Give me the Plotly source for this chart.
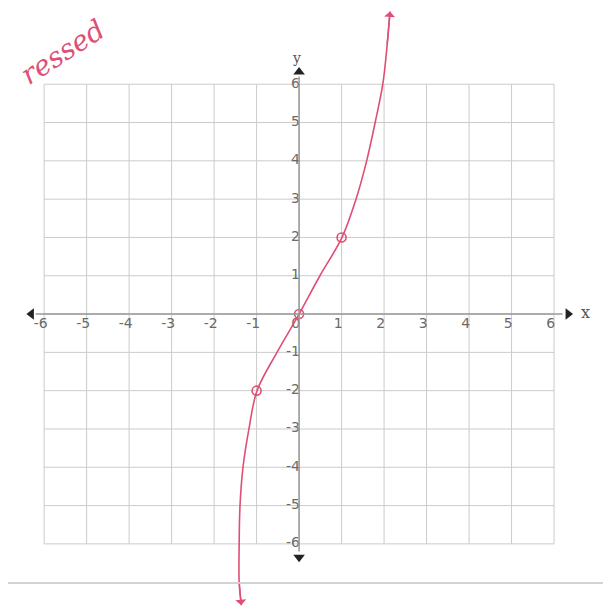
import plotly.graph_objects as go

# hand drawn curve
curve_x = [-1.36, -1.41, -1.41, -1.39, -1.32, -1.18, -0.99, -0.52, 0.0, 0.49, 1.01, 1.34, 1.59, 1.79, 1.97, 2.07, 2.14]
curve_y = [-7.6, -7.0, -6.0, -5.0, -4.0, -3.0, -2.0, -1.0, 0.0, 1.0, 2.0, 3.0, 4.0, 5.0, 6.0, 7.0, 7.9]

# plotted points (the little circles)
pts_x = [-1, 0, 1]
pts_y = [-2, 0, 2]

ticks = [-6, -5, -4, -3, -2, -1, 0, 1, 2, 3, 4, 5, 6]
tick_labels = ["-6", "-5", "-4", "-3", "-2", "-1", "0", "1", "2", "3", "4", "5", "6"]

pink = "#df4f75"
grid = "#cbcbcb"

fig = go.Figure()

shapes = []
for t in ticks:
    shapes.append(dict(type="line", x0=t, x1=t, y0=-6, y1=6, line=dict(color=grid, width=1), layer="below"))
    shapes.append(dict(type="line", x0=-6, x1=6, y0=t, y1=t, line=dict(color=grid, width=1), layer="below"))
# axes
shapes.append(dict(type="line", x0=-6.2, x1=6.2, y0=0, y1=0, line=dict(color="#999", width=1.5)))
shapes.append(dict(type="line", x0=0, x1=0, y0=-6.2, y1=6.2, line=dict(color="#999", width=1.5)))
# scan border
shapes.append(dict(type="line", xref="paper", yref="paper", x0=0, x1=1, y0=1 - 575/601, y1=1 - 575/601,
                   line=dict(color="#d3d3d3", width=2)))

# axis arrowheads
fig.add_trace(go.Scatter(x=[-6.3, 6.33, 0, 0], y=[0, 0, 6.32, -6.35], mode="markers",
                         marker=dict(symbol=["triangle-left", "triangle-right", "triangle-up", "triangle-down"],
                                     size=10, color="#222"),
                         hoverinfo="skip", showlegend=False))

# tick labels
fig.add_trace(go.Scatter(x=[t - 0.08 for t in ticks], y=[-0.28] * len(ticks), mode="text",
                         text=tick_labels, textfont=dict(family="DejaVu Sans", size=14, color="#6a6a6a"),
                         hoverinfo="skip", showlegend=False))
y_ticks = [t for t in ticks if t != 0]
y_labels = [l for t, l in zip(ticks, tick_labels) if t != 0]
fig.add_trace(go.Scatter(x=[0.02] * len(y_ticks), y=y_ticks, mode="text", textposition="middle left",
                         text=y_labels, textfont=dict(family="DejaVu Sans", size=14, color="#6a6a6a"),
                         hoverinfo="skip", showlegend=False))

# the curve
fig.add_trace(go.Scatter(x=curve_x, y=curve_y, mode="lines", line=dict(color=pink, width=1.6, shape="spline"),
                         hoverinfo="skip", showlegend=False))
fig.add_trace(go.Scatter(x=pts_x, y=pts_y, mode="markers",
                         marker=dict(symbol="circle-open", size=9, color=pink, line=dict(width=1.6)),
                         hoverinfo="skip", showlegend=False))

annotations = [
    dict(x=6.73, y=0.05, text="x", showarrow=False, font=dict(family="DejaVu Serif", size=16, color="#555")),
    dict(x=-0.05, y=6.68, text="y", showarrow=False, font=dict(family="DejaVu Serif", size=14, color="#555")),
    # curve arrowheads
    dict(x=curve_x[-1], y=curve_y[-1], ax=curve_x[-2], ay=curve_y[-2], axref="x", ayref="y",
         showarrow=True, arrowhead=1, arrowsize=1.3, arrowwidth=1.4, arrowcolor=pink, text=""),
    dict(x=curve_x[0], y=curve_y[0], ax=curve_x[1], ay=curve_y[1], axref="x", ayref="y",
         showarrow=True, arrowhead=1, arrowsize=1.3, arrowwidth=1.4, arrowcolor=pink, text=""),
    # handwriting in the corner
    dict(xref="paper", yref="paper", x=54/603, y=1 - 44/601, xanchor="center", yanchor="middle",
         text="ressed", textangle=-33,
         showarrow=False, font=dict(family="DejaVu Serif", size=28, color=pink, style="italic")),
]

fig.update_layout(
    width=603, height=601,
    margin=dict(l=0, r=0, t=0, b=0),
    paper_bgcolor="white", plot_bgcolor="white",
    xaxis=dict(range=[-6.85, 7.34], visible=False, fixedrange=True),
    yaxis=dict(range=[-7.70, 7.99], visible=False, fixedrange=True),
    shapes=shapes, annotations=annotations,
    showlegend=False,
)

fig.write_html("out.html")
